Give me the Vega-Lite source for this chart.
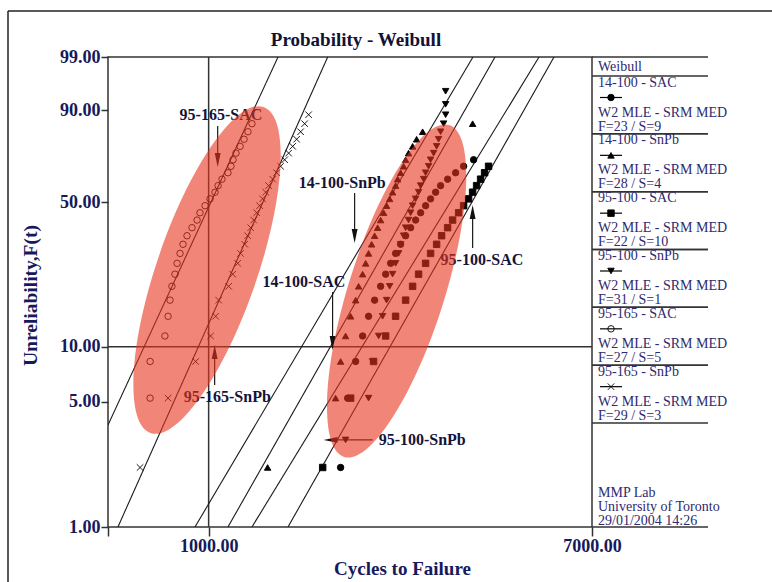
{
  "$schema": "https://vega.github.io/schema/vega-lite/v6.json",
  "width": 484,
  "height": 470,
  "autosize": {"type": "none"},
  "padding": {"left": 108, "top": 57, "right": 180, "bottom": 55},
  "background": "white",
  "title": {"text": "Probability - Weibull", "frame": "group", "anchor": "middle", "offset": -54.5, "fontSize": 19, "fontWeight": "bold", "color": "#121235", "baseline": "alphabetic", "dx": 6},
  "config": {
    "font": "Liberation Serif",
    "view": {"stroke": "#333", "strokeWidth": 1.5}
  },
  "resolve": {"scale": {"y": "independent"}},
  "layer": [
    {
      "layer": [
        {
          "data": {"values": [{"F": 10}]},
          "transform": [{"calculate": "-log(1-datum.F/100)", "as": "z"}],
          "mark": {"type": "rule", "stroke": "#333", "strokeWidth": 1.5},
          "encoding": {
            "y": {"field": "z", "type": "quantitative",
              "scale": {"type": "log", "domain": [0.01005034, 4.60517019], "nice": false},
              "axis": {"values": [0.01005034, 0.05129329, 0.10536052, 0.69314718, 2.30258509, 4.60517019],
                "labelExpr": "format((1-exp(-datum.value))*100,'.2f')",
                "tickSize": 7, "labelPadding": 1, "labelFontSize": 18, "labelFontWeight": "bold", "labelColor": "#16195c",
                "tickColor": "#333", "tickWidth": 1.5, "domain": false, "grid": false, "labelFlush": false, "labelOverlap": false,
                "title": "Unreliability,F(t)", "titleFontSize": 19.5, "titleFontWeight": "bold", "titleColor": "#16195c",
                "titleX": -72, "titleY": 238, "titleAngle": 270, "titleBaseline": "alphabetic", "titleAlign": "center"}}
          }
        },
        {
          "data": {"values": [{"x": 1000}]},
          "mark": {"type": "rule", "stroke": "#333", "strokeWidth": 1.5},
          "encoding": {
            "x": {"field": "x", "type": "quantitative",
              "scale": {"type": "log", "domain": [600, 7000], "nice": false},
              "axis": {"values": [600, 1000, 7000],
                "labelExpr": "datum.value == 600 ? '' : format(datum.value, '.2f')",
                "tickSize": 9, "labelPadding": 1, "labelFontSize": 18, "labelFontWeight": "bold", "labelColor": "#16195c",
                "tickColor": "#333", "tickWidth": 1.5, "domain": false, "grid": false, "labelFlush": false, "labelOverlap": false,
                "title": "Cycles to Failure", "titleFontSize": 19, "titleFontWeight": "bold", "titleColor": "#16195c",
                "titleX": 294, "titleY": 47, "titleBaseline": "alphabetic", "titleAlign": "center"}}
          }
        },
        {
          "data": {"values": [
            {"s": "95-165 - SAC", "x": 600, "F": 3.73}, {"s": "95-165 - SAC", "x": 1422, "F": 99},
            {"s": "95-165 - SnPb", "x": 631, "F": 1}, {"s": "95-165 - SnPb", "x": 1830, "F": 99},
            {"s": "14-100 - SnPb", "x": 933, "F": 1}, {"s": "14-100 - SnPb", "x": 3826, "F": 99},
            {"s": "95-100 - SnPb", "x": 1103, "F": 1}, {"s": "95-100 - SnPb", "x": 4279, "F": 99},
            {"s": "14-100 - SAC", "x": 1246, "F": 1}, {"s": "14-100 - SAC", "x": 5350, "F": 99},
            {"s": "95-100 - SAC", "x": 1496, "F": 1}, {"s": "95-100 - SAC", "x": 5773, "F": 99}
          ]},
          "transform": [{"calculate": "-log(1-datum.F/100)", "as": "z"}],
          "mark": {"type": "line", "stroke": "#1a1a1a", "strokeWidth": 1.1, "clip": true},
          "encoding": {
            "x": {"field": "x", "type": "quantitative"},
            "y": {"field": "z", "type": "quantitative"},
            "detail": {"field": "s"}
          }
        },
        {
          "data": {"values": [
            {"x": 1047, "F": 84.6, "F2": 69.96},
            {"x": 2098, "F": 54.3, "F2": 36.01},
            {"x": 1876, "F": 19.35, "F2": 10.48},
            {"x": 3819, "F": 31.74, "F2": 45.69},
            {"x": 1031, "F": 6.2, "F2": 9.37}
          ]},
          "transform": [{"calculate": "-log(1-datum.F/100)", "as": "z"}, {"calculate": "-log(1-datum.F2/100)", "as": "z2"}],
          "mark": {"type": "rule", "stroke": "#1a1a1a", "strokeWidth": 1.2},
          "encoding": {
            "x": {"field": "x", "type": "quantitative"},
            "y": {"field": "z", "type": "quantitative"},
            "y2": {"field": "z2"}
          }
        },
        {
          "data": {"values": [{"x": 1857, "x2": 2299, "F": 3.08}]},
          "transform": [{"calculate": "-log(1-datum.F/100)", "as": "z"}],
          "mark": {"type": "rule", "stroke": "#1a1a1a", "strokeWidth": 1.2},
          "encoding": {
            "x": {"field": "x", "type": "quantitative"},
            "x2": {"field": "x2"},
            "y": {"field": "z", "type": "quantitative"}
          }
        },
        {
          "data": {"values": [{"x": 1047, "F": 69.96}, {"x": 2098, "F": 36.01}, {"x": 1876, "F": 10.48}]},
          "transform": [{"calculate": "-log(1-datum.F/100)", "as": "z"}],
          "mark": {"type": "point", "shape": "M-0.42,-1L0.42,-1L0,1Z", "filled": true, "fill": "#111", "opacity": 1, "size": 196, "strokeWidth": 0},
          "encoding": {"x": {"field": "x", "type": "quantitative"}, "y": {"field": "z", "type": "quantitative"}}
        },
        {
          "data": {"values": [{"x": 3819, "F": 45.69}, {"x": 1031, "F": 9.37}]},
          "transform": [{"calculate": "-log(1-datum.F/100)", "as": "z"}],
          "mark": {"type": "point", "shape": "M-0.42,1L0.42,1L0,-1Z", "filled": true, "fill": "#111", "opacity": 1, "size": 196, "strokeWidth": 0},
          "encoding": {"x": {"field": "x", "type": "quantitative"}, "y": {"field": "z", "type": "quantitative"}}
        },
        {
          "data": {"values": [{"x": 1857, "F": 3.08}]},
          "transform": [{"calculate": "-log(1-datum.F/100)", "as": "z"}],
          "mark": {"type": "point", "shape": "M1,-0.42L1,0.42L-1,0Z", "filled": true, "fill": "#111", "opacity": 1, "size": 196, "strokeWidth": 0},
          "encoding": {"x": {"field": "x", "type": "quantitative"}, "y": {"field": "z", "type": "quantitative"}}
        },
        {
          "data": {"values": [
            {"t": "95-165-SAC", "x": 863, "F": 88.5},
            {"t": "14-100-SnPb", "x": 1579, "F": 58.97},
            {"t": "14-100-SAC", "x": 1315, "F": 21.74},
            {"t": "95-100-SAC", "x": 3246, "F": 27.85},
            {"t": "95-165-SnPb", "x": 881, "F": 5.33},
            {"t": "95-100-SnPb", "x": 2370, "F": 3.08}
          ]},
          "transform": [{"calculate": "-log(1-datum.F/100)", "as": "z"}],
          "mark": {"type": "text", "align": "left", "baseline": "middle", "fontSize": 16, "fontWeight": "bold", "color": "#14143a"},
          "encoding": {"x": {"field": "x", "type": "quantitative"}, "y": {"field": "z", "type": "quantitative"}, "text": {"field": "t"}}
        },
        {
          "data": {"values": [
            {"s": "95-165 - SAC", "x": 743, "F": 5.25}, {"s": "95-165 - SAC", "x": 743, "F": 8.33}, {"s": "95-165 - SAC", "x": 801, "F": 11.42}, {"s": "95-165 - SAC", "x": 814, "F": 14.51}, {"s": "95-165 - SAC", "x": 822, "F": 17.59}, {"s": "95-165 - SAC", "x": 830, "F": 20.68}, {"s": "95-165 - SAC", "x": 843, "F": 23.77}, {"s": "95-165 - SAC", "x": 852, "F": 26.85}, {"s": "95-165 - SAC", "x": 865, "F": 29.94}, {"s": "95-165 - SAC", "x": 878, "F": 33.02}, {"s": "95-165 - SAC", "x": 896, "F": 36.11}, {"s": "95-165 - SAC", "x": 919, "F": 39.2}, {"s": "95-165 - SAC", "x": 943, "F": 42.28}, {"s": "95-165 - SAC", "x": 957, "F": 45.37}, {"s": "95-165 - SAC", "x": 982, "F": 48.46}, {"s": "95-165 - SAC", "x": 1007, "F": 51.54}, {"s": "95-165 - SAC", "x": 1033, "F": 54.63}, {"s": "95-165 - SAC", "x": 1049, "F": 57.72}, {"s": "95-165 - SAC", "x": 1070, "F": 60.8}, {"s": "95-165 - SAC", "x": 1103, "F": 63.89}, {"s": "95-165 - SAC", "x": 1120, "F": 66.98}, {"s": "95-165 - SAC", "x": 1132, "F": 70.06}, {"s": "95-165 - SAC", "x": 1149, "F": 73.15}, {"s": "95-165 - SAC", "x": 1173, "F": 76.23}, {"s": "95-165 - SAC", "x": 1197, "F": 79.32}, {"s": "95-165 - SAC", "x": 1221, "F": 82.41}, {"s": "95-165 - SAC", "x": 1246, "F": 85.49},
            {"s": "95-165 - SnPb", "x": 706, "F": 2.16}, {"s": "95-165 - SnPb", "x": 814, "F": 5.25}, {"s": "95-165 - SnPb", "x": 936, "F": 8.33}, {"s": "95-165 - SnPb", "x": 1010, "F": 11.42}, {"s": "95-165 - SnPb", "x": 1036, "F": 14.51}, {"s": "95-165 - SnPb", "x": 1052, "F": 17.59}, {"s": "95-165 - SnPb", "x": 1107, "F": 20.68}, {"s": "95-165 - SnPb", "x": 1130, "F": 23.77}, {"s": "95-165 - SnPb", "x": 1159, "F": 26.85}, {"s": "95-165 - SnPb", "x": 1176, "F": 29.94}, {"s": "95-165 - SnPb", "x": 1201, "F": 33.02}, {"s": "95-165 - SnPb", "x": 1219, "F": 36.11}, {"s": "95-165 - SnPb", "x": 1238, "F": 39.2}, {"s": "95-165 - SnPb", "x": 1257, "F": 42.28}, {"s": "95-165 - SnPb", "x": 1276, "F": 45.37}, {"s": "95-165 - SnPb", "x": 1295, "F": 48.46}, {"s": "95-165 - SnPb", "x": 1315, "F": 51.54}, {"s": "95-165 - SnPb", "x": 1336, "F": 54.63}, {"s": "95-165 - SnPb", "x": 1356, "F": 57.72}, {"s": "95-165 - SnPb", "x": 1384, "F": 60.8}, {"s": "95-165 - SnPb", "x": 1412, "F": 63.89}, {"s": "95-165 - SnPb", "x": 1441, "F": 66.98}, {"s": "95-165 - SnPb", "x": 1471, "F": 70.06}, {"s": "95-165 - SnPb", "x": 1501, "F": 73.15}, {"s": "95-165 - SnPb", "x": 1532, "F": 76.23}, {"s": "95-165 - SnPb", "x": 1563, "F": 79.32}, {"s": "95-165 - SnPb", "x": 1595, "F": 82.41}, {"s": "95-165 - SnPb", "x": 1628, "F": 85.49}, {"s": "95-165 - SnPb", "x": 1661, "F": 88.58},
            {"s": "14-100 - SnPb", "x": 1349, "F": 2.16}, {"s": "14-100 - SnPb", "x": 1905, "F": 5.25}, {"s": "14-100 - SnPb", "x": 1954, "F": 8.33}, {"s": "14-100 - SnPb", "x": 2004, "F": 11.42}, {"s": "14-100 - SnPb", "x": 2056, "F": 14.51}, {"s": "14-100 - SnPb", "x": 2109, "F": 17.59}, {"s": "14-100 - SnPb", "x": 2141, "F": 20.68}, {"s": "14-100 - SnPb", "x": 2185, "F": 23.77}, {"s": "14-100 - SnPb", "x": 2219, "F": 26.85}, {"s": "14-100 - SnPb", "x": 2252, "F": 29.94}, {"s": "14-100 - SnPb", "x": 2287, "F": 33.02}, {"s": "14-100 - SnPb", "x": 2322, "F": 36.11}, {"s": "14-100 - SnPb", "x": 2358, "F": 39.2}, {"s": "14-100 - SnPb", "x": 2394, "F": 42.28}, {"s": "14-100 - SnPb", "x": 2431, "F": 45.37}, {"s": "14-100 - SnPb", "x": 2468, "F": 48.46}, {"s": "14-100 - SnPb", "x": 2506, "F": 51.54}, {"s": "14-100 - SnPb", "x": 2544, "F": 54.63}, {"s": "14-100 - SnPb", "x": 2583, "F": 57.72}, {"s": "14-100 - SnPb", "x": 2610, "F": 60.8}, {"s": "14-100 - SnPb", "x": 2650, "F": 63.89}, {"s": "14-100 - SnPb", "x": 2690, "F": 66.98}, {"s": "14-100 - SnPb", "x": 2718, "F": 70.06}, {"s": "14-100 - SnPb", "x": 2759, "F": 73.15}, {"s": "14-100 - SnPb", "x": 2816, "F": 76.23}, {"s": "14-100 - SnPb", "x": 2874, "F": 79.32}, {"s": "14-100 - SnPb", "x": 2963, "F": 82.41}, {"s": "14-100 - SnPb", "x": 3819, "F": 85.49},
            {"s": "95-100 - SnPb", "x": 2004, "F": 3.08}, {"s": "95-100 - SnPb", "x": 2252, "F": 5.25}, {"s": "95-100 - SnPb", "x": 2299, "F": 8.33}, {"s": "95-100 - SnPb", "x": 2370, "F": 11.42}, {"s": "95-100 - SnPb", "x": 2418, "F": 14.51}, {"s": "95-100 - SnPb", "x": 2468, "F": 17.59}, {"s": "95-100 - SnPb", "x": 2506, "F": 20.68}, {"s": "95-100 - SnPb", "x": 2544, "F": 23.77}, {"s": "95-100 - SnPb", "x": 2583, "F": 26.85}, {"s": "95-100 - SnPb", "x": 2623, "F": 29.94}, {"s": "95-100 - SnPb", "x": 2650, "F": 33.02}, {"s": "95-100 - SnPb", "x": 2690, "F": 36.11}, {"s": "95-100 - SnPb", "x": 2718, "F": 39.2}, {"s": "95-100 - SnPb", "x": 2759, "F": 42.28}, {"s": "95-100 - SnPb", "x": 2788, "F": 45.37}, {"s": "95-100 - SnPb", "x": 2816, "F": 48.46}, {"s": "95-100 - SnPb", "x": 2859, "F": 51.54}, {"s": "95-100 - SnPb", "x": 2903, "F": 54.63}, {"s": "95-100 - SnPb", "x": 2933, "F": 57.72}, {"s": "95-100 - SnPb", "x": 2978, "F": 60.8}, {"s": "95-100 - SnPb", "x": 3008, "F": 63.89}, {"s": "95-100 - SnPb", "x": 3054, "F": 66.98}, {"s": "95-100 - SnPb", "x": 3085, "F": 70.06}, {"s": "95-100 - SnPb", "x": 3133, "F": 73.15}, {"s": "95-100 - SnPb", "x": 3181, "F": 76.23}, {"s": "95-100 - SnPb", "x": 3213, "F": 79.32}, {"s": "95-100 - SnPb", "x": 3246, "F": 82.41}, {"s": "95-100 - SnPb", "x": 3296, "F": 85.49}, {"s": "95-100 - SnPb", "x": 3330, "F": 88.58}, {"s": "95-100 - SnPb", "x": 3330, "F": 91.67}, {"s": "95-100 - SnPb", "x": 3330, "F": 94.75},
            {"s": "14-100 - SAC", "x": 1954, "F": 2.16}, {"s": "14-100 - SAC", "x": 2025, "F": 5.25}, {"s": "14-100 - SAC", "x": 2109, "F": 8.33}, {"s": "14-100 - SAC", "x": 2185, "F": 11.42}, {"s": "14-100 - SAC", "x": 2252, "F": 14.51}, {"s": "14-100 - SAC", "x": 2322, "F": 17.59}, {"s": "14-100 - SAC", "x": 2394, "F": 20.68}, {"s": "14-100 - SAC", "x": 2456, "F": 23.77}, {"s": "14-100 - SAC", "x": 2519, "F": 26.85}, {"s": "14-100 - SAC", "x": 2583, "F": 29.94}, {"s": "14-100 - SAC", "x": 2650, "F": 33.02}, {"s": "14-100 - SAC", "x": 2718, "F": 36.11}, {"s": "14-100 - SAC", "x": 2788, "F": 39.2}, {"s": "14-100 - SAC", "x": 2859, "F": 42.28}, {"s": "14-100 - SAC", "x": 2933, "F": 45.37}, {"s": "14-100 - SAC", "x": 3008, "F": 48.46}, {"s": "14-100 - SAC", "x": 3085, "F": 51.54}, {"s": "14-100 - SAC", "x": 3165, "F": 54.63}, {"s": "14-100 - SAC", "x": 3246, "F": 57.72}, {"s": "14-100 - SAC", "x": 3364, "F": 60.8}, {"s": "14-100 - SAC", "x": 3503, "F": 63.89}, {"s": "14-100 - SAC", "x": 3648, "F": 66.98}, {"s": "14-100 - SAC", "x": 3838, "F": 70.06},
            {"s": "95-100 - SAC", "x": 1784, "F": 2.16}, {"s": "95-100 - SAC", "x": 2056, "F": 5.25}, {"s": "95-100 - SAC", "x": 2310, "F": 8.33}, {"s": "95-100 - SAC", "x": 2456, "F": 11.42}, {"s": "95-100 - SAC", "x": 2583, "F": 14.51}, {"s": "95-100 - SAC", "x": 2718, "F": 17.59}, {"s": "95-100 - SAC", "x": 2816, "F": 20.68}, {"s": "95-100 - SAC", "x": 2903, "F": 23.77}, {"s": "95-100 - SAC", "x": 3008, "F": 26.85}, {"s": "95-100 - SAC", "x": 3085, "F": 29.94}, {"s": "95-100 - SAC", "x": 3181, "F": 33.02}, {"s": "95-100 - SAC", "x": 3263, "F": 36.11}, {"s": "95-100 - SAC", "x": 3364, "F": 39.2}, {"s": "95-100 - SAC", "x": 3450, "F": 42.28}, {"s": "95-100 - SAC", "x": 3557, "F": 45.37}, {"s": "95-100 - SAC", "x": 3648, "F": 48.46}, {"s": "95-100 - SAC", "x": 3742, "F": 51.54}, {"s": "95-100 - SAC", "x": 3819, "F": 54.63}, {"s": "95-100 - SAC", "x": 3897, "F": 57.72}, {"s": "95-100 - SAC", "x": 3977, "F": 60.8}, {"s": "95-100 - SAC", "x": 4058, "F": 63.89}, {"s": "95-100 - SAC", "x": 4141, "F": 66.98}
          ]},
          "transform": [{"calculate": "-log(1-datum.F/100)", "as": "z"}],
          "mark": {"type": "point", "filled": true, "opacity": 1, "stroke": "#000", "strokeWidth": 0.9, "size": 42},
          "encoding": {
            "x": {"field": "x", "type": "quantitative"},
            "y": {"field": "z", "type": "quantitative"},
            "shape": {"field": "s", "type": "nominal", "legend": null,
              "scale": {"domain": ["14-100 - SAC", "14-100 - SnPb", "95-100 - SAC", "95-100 - SnPb", "95-165 - SAC", "95-165 - SnPb"],
                "range": ["circle", "triangle-up", "square", "triangle-down", "circle", "M-1,-1L1,1M-1,1L1,-1"]}},
            "fill": {"field": "s", "type": "nominal", "legend": null,
              "scale": {"domain": ["14-100 - SAC", "14-100 - SnPb", "95-100 - SAC", "95-100 - SnPb", "95-165 - SAC", "95-165 - SnPb"],
                "range": ["#000000", "#000000", "#000000", "#000000", "transparent", "transparent"]}}
          }
        },
        {
          "data": {"values": [{"x": 992, "F": 24.92}]},
          "transform": [{"calculate": "-log(1-datum.F/100)", "as": "z"}],
          "mark": {"type": "point", "shape": "M0.3275,-0.9449A1,0.29,-70.88,0,1,0.274,0.095A1,0.29,-70.88,0,1,-0.3275,0.9449A1,0.29,-70.88,0,1,-0.274,-0.095A1,0.29,-70.88,0,1,0.3275,-0.9449Z", "filled": true, "fill": "#e8341c", "opacity": 0.6, "size": 119025, "strokeWidth": 0},
          "encoding": {"x": {"field": "x", "type": "quantitative"}, "y": {"field": "z", "type": "quantitative"}}
        },
        {
          "data": {"values": [{"x": 2597, "F": 19.58}]},
          "transform": [{"calculate": "-log(1-datum.F/100)", "as": "z"}],
          "mark": {"type": "point", "shape": "M0.3015,-0.9535A1,0.276,-72.45,0,1,0.2632,0.0832A1,0.276,-72.45,0,1,-0.3015,0.9535A1,0.276,-72.45,0,1,-0.2632,-0.0832A1,0.276,-72.45,0,1,0.3015,-0.9535Z", "filled": true, "fill": "#e8341c", "opacity": 0.6, "size": 121104, "strokeWidth": 0},
          "encoding": {"x": {"field": "x", "type": "quantitative"}, "y": {"field": "z", "type": "quantitative"}}
        }
      ]
    },
    {
      "layer": [
        {
          "data": {"values": [{}]},
          "mark": {"type": "rule", "stroke": "#222", "strokeWidth": 1.5},
          "encoding": {"x": {"value": -100}, "x2": {"value": 664}, "y": {"value": -46}}
        },
        {
          "data": {"values": [{}]},
          "mark": {"type": "rule", "stroke": "#222", "strokeWidth": 1.5},
          "encoding": {"x": {"value": -100}, "y": {"value": -46}, "y2": {"value": 525}}
        },
        {
          "data": {"values": [{}]},
          "mark": {"type": "rule", "stroke": "#333", "strokeWidth": 1.5},
          "encoding": {"x": {"value": 484}, "x2": {"value": 600}, "y": {"value": 0}}
        },
        {
          "data": {"values": [{}]},
          "mark": {"type": "rule", "stroke": "#333", "strokeWidth": 1.5},
          "encoding": {"x": {"value": 484}, "x2": {"value": 600}, "y": {"value": 470}}
        },
        {
          "data": {"values": [{}]},
          "mark": {"type": "text", "align": "left", "baseline": "middle", "fontSize": 14, "color": "#2e2a6e"},
          "encoding": {"x": {"value": 490}, "y": {"value": 10}, "text": {"value": "Weibull"}}
        },
        {
          "data": {"values": [{}]},
          "mark": {"type": "text", "align": "left", "baseline": "middle", "fontSize": 14, "color": "#2e2a6e", "lineHeight": 14},
          "encoding": {"x": {"value": 490}, "y": {"value": 436}, "text": {"value": ["MMP Lab", "University of Toronto", "29/01/2004 14:26"]}}
        },
        {
          "data": {"values": [
            {"s": "14-100 - SAC", "fs": "F=23 / S=9"},
            {"s": "14-100 - SnPb", "fs": "F=28 / S=4"},
            {"s": "95-100 - SAC", "fs": "F=22 / S=10"},
            {"s": "95-100 - SnPb", "fs": "F=31 / S=1"},
            {"s": "95-165 - SAC", "fs": "F=27 / S=5"},
            {"s": "95-165 - SnPb", "fs": "F=29 / S=3"}
          ]},
          "layer": [
            {
              "mark": {"type": "rule", "stroke": "#333", "strokeWidth": 1.5},
              "encoding": {"x": {"value": 484}, "x2": {"value": 600},
                "y": {"field": "s", "type": "nominal", "bandPosition": 0, "axis": null,
                  "scale": {"type": "band", "domain": ["14-100 - SAC", "14-100 - SnPb", "95-100 - SAC", "95-100 - SnPb", "95-165 - SAC", "95-165 - SnPb"], "range": [19, 366], "paddingInner": 0, "paddingOuter": 0}}}
            },
            {
              "mark": {"type": "rule", "stroke": "#333", "strokeWidth": 1.5},
              "encoding": {"x": {"value": 484}, "x2": {"value": 600},
                "y": {"field": "s", "type": "nominal", "bandPosition": 1, "axis": null}}
            },
            {
              "mark": {"type": "text", "align": "left", "baseline": "middle", "dy": 6.5, "fontSize": 14, "color": "#2e2a6e"},
              "encoding": {"x": {"value": 490}, "y": {"field": "s", "type": "nominal", "bandPosition": 0, "axis": null}, "text": {"field": "s"}}
            },
            {
              "mark": {"type": "rule", "stroke": "#000", "strokeWidth": 1.2, "yOffset": 21.5},
              "encoding": {"x": {"value": 492}, "x2": {"value": 514}, "y": {"field": "s", "type": "nominal", "bandPosition": 0, "axis": null}}
            },
            {
              "mark": {"type": "point", "filled": true, "opacity": 1, "stroke": "#000", "strokeWidth": 0.9, "size": 42, "yOffset": 21.5},
              "encoding": {"x": {"value": 503}, "y": {"field": "s", "type": "nominal", "bandPosition": 0, "axis": null},
                "shape": {"field": "s", "type": "nominal", "legend": null},
                "fill": {"field": "s", "type": "nominal", "legend": null}}
            },
            {
              "mark": {"type": "text", "align": "left", "baseline": "middle", "dy": 36.5, "fontSize": 14, "color": "#2e2a6e"},
              "encoding": {"x": {"value": 490}, "y": {"field": "s", "type": "nominal", "bandPosition": 0, "axis": null}, "text": {"value": "W2 MLE - SRM MED"}}
            },
            {
              "mark": {"type": "text", "align": "left", "baseline": "middle", "dy": 50.5, "fontSize": 14, "color": "#2e2a6e"},
              "encoding": {"x": {"value": 490}, "y": {"field": "s", "type": "nominal", "bandPosition": 0, "axis": null}, "text": {"field": "fs"}}
            }
          ]
        }
      ]
    }
  ]
}
